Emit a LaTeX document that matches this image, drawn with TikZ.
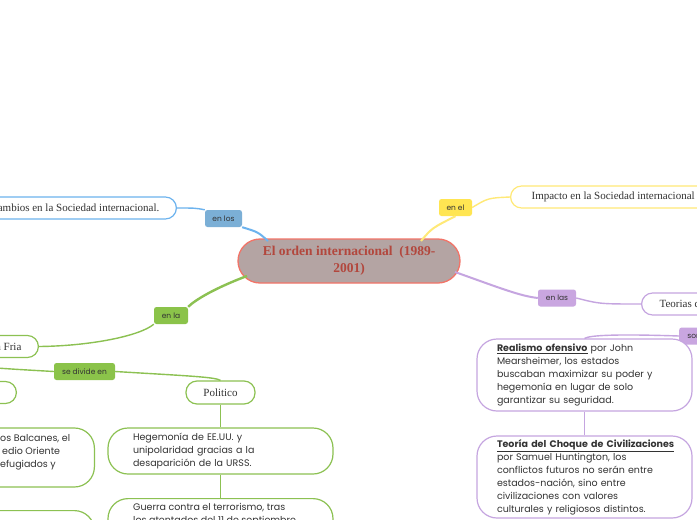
\documentclass[tikz,border=0pt]{standalone}
\usepackage{fontspec}
\setmainfont{Poppins}
\newfontfamily\topicf{Liberation Serif}
\usetikzlibrary{calc}
\definecolor{blueL}{HTML}{6DB3EE}
\definecolor{blueLab}{HTML}{7BAFD6}
\definecolor{yelL}{HTML}{FFE977}
\definecolor{yelLab}{HTML}{FFE552}
\definecolor{purL}{HTML}{C5A5E0}
\definecolor{purLab}{HTML}{C9A6E0}
\definecolor{grnL}{HTML}{8CC152}
\definecolor{grnLab}{HTML}{8BC34A}
\definecolor{cenFill}{HTML}{B4A4A3}
\definecolor{cenDraw}{HTML}{F27468}
\definecolor{cenText}{HTML}{B2473D}
\definecolor{txt}{HTML}{333333}
\tikzset{
  topic/.style={draw, line width=1.2pt, fill=white, rounded corners=11pt, minimum height=22pt, inner ysep=0pt, font=\topicf\fontsize{11}{12}\selectfont, text=txt},
  lab/.style={rounded corners=2.5pt, minimum height=17pt, inner ysep=0pt, inner xsep=6pt, font=\fontsize{7.5}{8}\selectfont, text=txt},
  body/.style={draw, line width=1.2pt, fill=white, rounded corners=20pt, align=left, inner sep=0pt, font=\fontsize{9.5}{13}\selectfont, text=txt},
  conn/.style={line width=1.4pt},
  mainconn/.style={line width=2pt}
}
\begin{document}
\begin{tikzpicture}[x=1pt,y=-1pt]
\useasboundingbox (0,0) rectangle (697,520);
\fill[white] (0,0) rectangle (697,520);

% ---------- nodes ----------
\node[draw=cenDraw, fill=cenFill, line width=1.3pt, rounded corners=22pt,
      minimum width=222pt, minimum height=44pt, align=center, inner sep=0pt,
      text=cenText, font=\topicf\bfseries\fontsize{13.5}{17}\selectfont] (c) at (349,261)
      {El orden internacional\ \ (1989-\\2001)};

% blue
\node[topic, draw=blueL, anchor=east, inner xsep=17pt] (cambios) at (177,208) {Cambios en la Sociedad internacional.};
\node[lab, fill=blueLab, minimum width=37pt] (enlos) at (223.5,218.5) {en los};

% yellow
\node[topic, draw=yelL, anchor=west, inner xsep=21pt] (impacto) at (510,197) {Impacto en la Sociedad internacional};
\node[lab, fill=yelLab, minimum width=33pt] (enel) at (455.5,207.5) {en el};

% purple
\node[lab, fill=purLab, minimum width=38pt] (enlas) at (557,298) {en las};
\node[topic, draw=purL, anchor=west, inner xsep=18pt] (teorias) at (641,304) {Teorias de las Relaciones Internacionales};
\node[lab, fill=purLab, anchor=west, minimum width=30pt, inner xsep=8pt] (son) at (679,336) {son};
\node[body, draw=purL, minimum width=215pt, minimum height=72pt, text width=175pt] (real) at (584.5,375)
  {\underline{\textbf{Realismo ofensivo}} por John\\Mearsheimer, los estados\\buscaban maximizar su poder y\\hegemonía en lugar de solo\\garantizar su seguridad.};
\node[body, draw=purL, minimum width=215pt, minimum height=82pt, text width=175pt] (choque) at (584.5,477)
  {\underline{\textbf{Teoría del Choque de Civilizaciones}}\\por Samuel Huntington, los\\conflictos futuros no serán entre\\estados-nación, sino entre\\civilizaciones con valores\\culturales y religiosos distintos.};

% green
\node[lab, fill=grnLab, minimum width=34pt] (enla) at (171,315.5) {en la};
\node[topic, draw=grnL, anchor=east, inner xsep=17pt] (fria) at (39,346.5) {Guerra Fria};
\node[lab, fill=grnLab, minimum width=61pt] (divide) at (84.5,371.5) {se divide en};
\node[topic, draw=grnL, anchor=east, minimum width=80pt] (social) at (17,392.5) {};
\node[topic, draw=grnL, minimum width=69pt, minimum height=23pt] (politico) at (220.5,392.5) {Politico};
\node[body, draw=grnL, minimum width=225pt, minimum height=46pt, text width=175pt] (hegem) at (220.5,451)
  {Hegemonía de EE.UU. y\\unipolaridad gracias a la\\desaparición de la URSS.};
\node[body, draw=grnL, anchor=north, minimum width=225pt, minimum height=60pt, text width=175pt] (guerra) at (220.5,498) {};
\node[anchor=north west, align=left, inner sep=0pt, font=\fontsize{9.5}{13}\selectfont, text=txt] (guerratxt) at (133,503)
  {Guerra contra el terrorismo, tras\\los atentados del 11 de septiembre};
\node[body, draw=grnL, anchor=east, minimum width=160pt, minimum height=59pt] (balcan) at (95,457.5) {};
\node[anchor=north west, align=left, inner sep=0pt, font=\fontsize{9.5}{13}\selectfont, text=txt] (balcantxt) at (0,434)
  {os Balcanes, el\\\hspace*{2pt}edio Oriente\\efugiados y};
\node[body, draw=grnL, anchor=north east, minimum width=160pt, minimum height=50pt] (otro) at (95,510) {};

% ---------- connectors ----------
\draw[blueL, mainconn] (268,241) .. controls (258,232) .. (enlos.south east);
\draw[blueL, conn] (enlos.north west) .. controls (195,208) .. (cambios.east);

\draw[yelL, mainconn] (421,241) .. controls (432,228) .. (enel.south);
\draw[yelL, conn] (enel.east) .. controls (488,198) .. (impacto.west);

\draw[purL, mainconn] (455,272) .. controls (500,288) and (520,296) .. (enlas.west);
\draw[purL, conn] (enlas.east) .. controls (600,304) .. (teorias.west);
\draw[purL, conn] (son.west) .. controls (620,334) and (590,335) .. (real.north);
\draw[purL, conn] (real.south) -- (choque.north);

\draw[grnL, line width=2.4pt] (247,276) .. controls (215,288) and (195,300) .. (enla.north east);
\draw[grnL, conn] (enla.south west) .. controls (140,336) and (90,346) .. (fria.east);
\draw[grnL, conn] (-30,366) .. controls (10,369) .. (divide.west);
\draw[grnL, conn] (divide.east) .. controls (190,376) and (215,377) .. (politico.north);
\draw[grnL, conn] (politico.south) -- (hegem.north);
\draw[grnL, conn] (hegem.south) -- (guerra.north);
\end{tikzpicture}
\end{document}
